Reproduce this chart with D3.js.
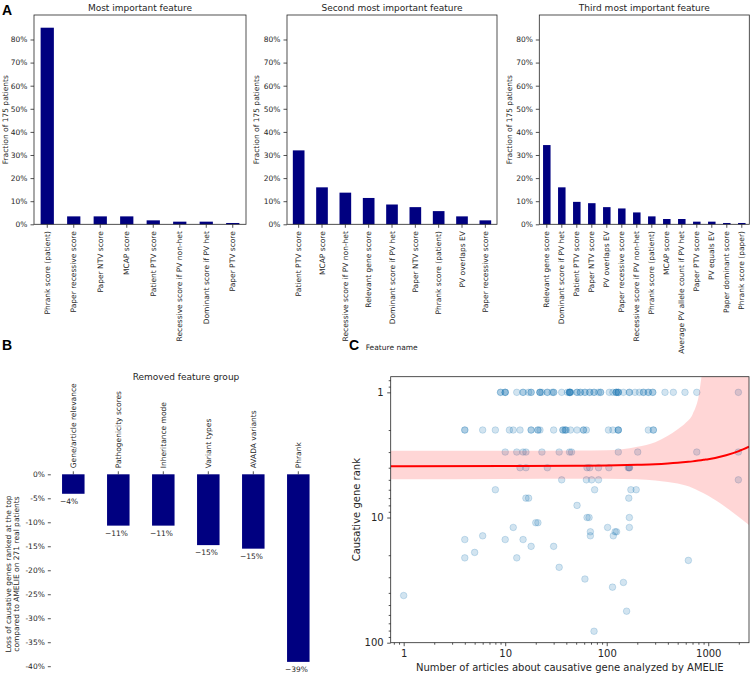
<!DOCTYPE html>
<html><head><meta charset="utf-8">
<script src="https://cdn.jsdelivr.net/npm/d3@7"></script>
<style>
body{margin:0;background:#fff;}
svg{display:block;font-family:"DejaVu Sans",sans-serif;}
</style></head><body>
<svg id="chart" width="753" height="677"></svg>
<script>
// ---------- Panel A data ----------
const featuresMost = ["Phrank score (patient)","Paper recessive score","Paper NTV score","MCAP score","Patient PTV score","Recessive score if PV non-het","Dominant score if PV het","Paper PTV score"];
const valuesMost = [0.851,0.0343,0.0343,0.0343,0.0171,0.0114,0.0114,0.0057];
const featuresSecond = ["Patient PTV score","MCAP score","Recessive score if PV non-het","Relevant gene score","Dominant score if PV het","Paper NTV score","Phrank score (patient)","PV overlaps EV","Paper recessive score"];
const valuesSecond = [0.32,0.16,0.137,0.114,0.0857,0.0743,0.0571,0.0343,0.0171];
const featuresThird = ["Relevant gene score","Dominant score if PV het","Patient PTV score","Paper NTV score","PV overlaps EV","Paper recessive score","Recessive score if PV non-het","Phrank score (patient)","MCAP score","Average PV allele count if PV het","Paper PTV score","PV equals EV","Paper dominant score","Phrank score (paper)"];
const valuesThird = [0.343,0.16,0.0971,0.0914,0.0743,0.0686,0.0514,0.0343,0.0229,0.0229,0.0114,0.0114,0.0057,0.0057];
const fractionTicks = [0,0.1,0.2,0.3,0.4,0.5,0.6,0.7,0.8];

// ---------- Panel B data ----------
const removedGroups = ["Gene/article relevance","Pathogenicity scores","Inheritance mode","Variant types","AVADA variants","Phrank"];
const lossValues = [-0.0406,-0.107,-0.107,-0.1476,-0.155,-0.391];
const lossLabels = ["\u22124%","\u221211%","\u221211%","\u221215%","\u221215%","\u221239%"];
const lossTicks = [0,-0.05,-0.10,-0.15,-0.20,-0.25,-0.30,-0.35,-0.40];

// ---------- Panel C data: [articles, causative gene rank] ----------
const genePoints = [
 [9,1],[9,1],[10,1],[10,1],[10,1],[13,1],[15,1],[15,1],[17,1],[18,1],[18,1],[22,1],[22,1],[22,1],[23,1],[26,1],[26,1],[29,1],[30,1],[30,1],
 [36,1],[41,1],[43,1],[43,1],[43,1],[43,1],[44,1],[44,1],[51,1],[51,1],[55,1],[55,1],[61,1],[61,1],[68,1],[68,1],[75,1],[75,1],[83,1],[87,1],[87,1],
 [106,1],[115,1],[124,1],[124,1],[124,1],[130,1],[130,1],[130,1],[146,1],[167,1],[167,1],[190,1],[210,1],[230,1],[230,1],[257,1],[257,1],[284,1],[284,1],
 [375,1],[453,1],[590,1],[771,1],[1980,1],
 [4,2],[4,2],[6,2],[8,2],[11,2],[12,2],[14,2],[18,2],[18,2],[21,2],[21,2],[22,2],[30,2],[37,2],[37,2],[39,2],[39,2],[40,2],[44,2],[51,2],[59,2],[59,2],[63,2],
 [104,2],[115,2],[130,2],[130,2],[130,2],[257,2],[288,2],[288,2],
 [10,3],[13,3],[15,3],[16,3],[23,3],[34,3],[43,3],[45,3],[130,3],[202,3],[771,3],[1980,3],
 [14,4],[16,4],[26,4],[64,4],[68,4],[83,4],[105,4],[163,4],[167,4],[167,4],
 [36,5],[63,5],[71,5],[83,5],[1980,5],
 [8,6],[76,6],[173,6],[195,6],
 [16,7],[17,7],[165,7],
 [51,8],
 [64,10],[67,10],[167,10],
 [20,11],[21,11],
 [12,12],[102,12],[167,12],
 [69,13],[121,13],[125,13],
 [6,14],[69,14],[116,14],
 [4,15],[10,15],[15,15],
 [18,17],[30,17],
 [5,19],
 [4,21],[13,21],
 [637,22],
 [34,25],
 [61,31],
 [146,33],
 [114,36],
 [1,42],
 [157,56],
 [75,81]
];
// regression line and confidence band
const fitArticles = [0.745,1,10,50,100,200,300,400,500,600,700,800,900,1000,1500,2000,2520];
const fitRank     = [3.89,3.89,3.88,3.86,3.84,3.79,3.75,3.70,3.65,3.60,3.56,3.51,3.46,3.42,3.18,2.95,2.72];
const bandLow     = [4.94,4.94,4.92,4.90,4.90,4.95,5.05,5.20,5.35,5.55,5.80,6.10,6.40,6.70,8.30,9.90,11.5];
const bandHigh    = [2.93,2.93,2.93,2.92,2.90,2.72,2.50,2.22,1.97,1.75,1.50,1.10,0.60,null,null,null,null];
const rankTicks = [1,10,100];
const articleTicks = [1,10,100,1000];

const svg = d3.select("#chart");
const INK = "#262626";
const NAVY = "#000080";

// ---------- Panel A ----------
function barPanel(x0, x1, features, values, title, ylabX) {
  const top = 15, bottom = 224.3;
  const g = svg.append("g");
  const x = d3.scaleBand().domain(features).range([x0, x1]).paddingInner(0.5).paddingOuter(0.25);
  const y = d3.scaleLinear().domain([0, 0.906]).range([bottom, top]);
  g.selectAll("rect.bar").data(values).join("rect")
    .attr("class","bar")
    .attr("x", (d,i) => x(features[i])).attr("width", x.bandwidth())
    .attr("y", d => y(d)).attr("height", d => y(0) - y(d))
    .attr("fill", NAVY);
  const ya = g.append("g").attr("transform", `translate(${x0},0)`)
    .call(d3.axisLeft(y).tickValues(fractionTicks).tickFormat(d3.format(".0%")).tickSize(3.5).tickPadding(3));
  ya.select(".domain").remove();
  ya.selectAll("line").attr("stroke", INK).attr("stroke-width", 0.8);
  ya.selectAll("text").attr("font-size", 7.5).attr("fill", INK).attr("font-family","DejaVu Sans");
  const xa = g.append("g").attr("transform", `translate(0,${bottom})`)
    .call(d3.axisBottom(x).tickSize(3.5).tickPadding(3));
  xa.select(".domain").remove();
  xa.selectAll("line").attr("stroke", INK).attr("stroke-width", 0.8);
  xa.selectAll("text").attr("font-size", 7.5).attr("fill", INK).attr("font-family","DejaVu Sans")
    .attr("transform","rotate(-90)").attr("text-anchor","end")
    .attr("x", -6.8).attr("y", 0).attr("dy","0.35em");
  g.append("rect").attr("x", x0).attr("y", top).attr("width", x1 - x0).attr("height", bottom - top)
    .attr("fill","none").attr("stroke", INK).attr("stroke-width", 0.8);
  g.append("text").attr("x", (x0 + x1) / 2).attr("y", 11).attr("text-anchor","middle")
    .attr("font-size", 9).attr("fill", INK).text(title);
  g.append("text").attr("transform", `translate(${ylabX},${(top + bottom) / 2}) rotate(-90)`)
    .attr("text-anchor","middle").attr("font-size", 7.5).attr("fill", INK).text("Fraction of 175 patients");
}
barPanel(34, 246, featuresMost, valuesMost, "Most important feature", 8.2);
barPanel(287, 497, featuresSecond, valuesSecond, "Second most important feature", 258.7);
barPanel(539.3, 749.3, featuresThird, valuesThird, "Third most important feature", 512);
svg.append("text").attr("x", 391.7).attr("y", 349.5).attr("text-anchor","middle")
  .attr("font-size", 7.5).attr("fill", INK).text("Feature name");

// ---------- Panel B ----------
{
  const g = svg.append("g");
  const x0 = 50.8, x1 = 320.8;
  const x = d3.scaleBand().domain(removedGroups).range([x0, x1]).paddingInner(0.5).paddingOuter(0.25);
  const y = d3.scaleLinear().domain([-0.41, 0]).range([671, 474.3]);
  g.selectAll("rect.bar").data(lossValues).join("rect")
    .attr("class","bar")
    .attr("x", (d,i) => x(removedGroups[i])).attr("width", x.bandwidth())
    .attr("y", y(0)).attr("height", d => y(d) - y(0))
    .attr("fill", NAVY);
  g.selectAll("text.val").data(lossValues).join("text")
    .attr("class","val")
    .attr("x", (d,i) => x(removedGroups[i]) - 2).attr("y", d => y(d) + 10)
    .attr("font-size", 7.5).attr("fill", INK).text((d,i) => lossLabels[i]);
  const ya = g.append("g").attr("transform", `translate(${x0},0)`)
    .call(d3.axisLeft(y).tickValues(lossTicks).tickFormat(d => (d < 0 ? "-" : "") + Math.round(Math.abs(d) * 100) + "%").tickSize(3).tickPadding(3));
  ya.select(".domain").remove();
  ya.selectAll("line").attr("stroke", INK).attr("stroke-width", 0.8);
  ya.selectAll("text").attr("font-size", 7.5).attr("fill", INK).attr("font-family","DejaVu Sans");
  const xa = g.append("g").attr("transform", `translate(0,${y(0)})`)
    .call(d3.axisTop(x).tickSize(3).tickPadding(3));
  xa.select(".domain").remove();
  xa.selectAll("line").attr("stroke", INK).attr("stroke-width", 0.8);
  xa.selectAll("text").attr("font-size", 7.5).attr("fill", INK).attr("font-family","DejaVu Sans")
    .attr("transform","rotate(-90)").attr("text-anchor","start")
    .attr("x", 6).attr("y", 0).attr("dy","0.35em");
  g.append("text").attr("x", 186).attr("y", 380).attr("text-anchor","middle")
    .attr("font-size", 9).attr("fill", INK).text("Removed feature group");
  const yl = g.append("text").attr("transform", `translate(0,574) rotate(-90)`)
    .attr("text-anchor","middle").attr("font-size", 7.5).attr("fill", INK);
  yl.append("tspan").attr("x", 0).attr("y", 11).text("Loss of causative genes ranked at the top");
  yl.append("tspan").attr("x", 0).attr("y", 18.6).text("compared to AMELIE on 271 real patients");
}

// ---------- Panel C ----------
{
  const g = svg.append("g");
  const L = 390.7, R = 749, T = 376.7, B = 642.7;
  const x = d3.scaleLog().domain([0.745, 2520]).range([L, R]);
  const y = d3.scaleLog().domain([0.75, 100]).range([T, B]);
  svg.append("defs").append("clipPath").attr("id","clipC")
    .append("rect").attr("x", L).attr("y", T).attr("width", R - L).attr("height", B - T);
  const plot = g.append("g").attr("clip-path","url(#clipC)");
  plot.selectAll("circle").data(genePoints).join("circle")
    .attr("cx", d => x(d[0])).attr("cy", d => y(d[1])).attr("r", 3.3)
    .attr("fill","#1f77b4").attr("fill-opacity", 0.2)
    .attr("stroke","#1f77b4").attr("stroke-opacity", 0.2).attr("stroke-width", 1);
  const fit = fitArticles.map((a,i) => ({a, c: fitRank[i], lo: bandLow[i], hi: bandHigh[i]}));
  const area = d3.area().curve(d3.curveMonotoneX)
    .x(d => x(d.a)).y0(d => y(d.lo)).y1(d => d.hi == null ? T - 20 : y(d.hi));
  plot.append("path").datum(fit).attr("d", area).attr("fill","#ff0000").attr("fill-opacity", 0.16);
  plot.append("path").datum(fit)
    .attr("d", d3.line().curve(d3.curveMonotoneX).x(d => x(d.a)).y(d => y(d.c)))
    .attr("fill","none").attr("stroke","#ff0000").attr("stroke-width", 2);

  const minorY = [0.8,0.9,2,3,4,5,6,7,8,9,20,30,40,50,60,70,80,90];
  const minorX = [0.8,0.9,2,3,4,5,6,7,8,9,20,30,40,50,60,70,80,90,200,300,400,500,600,700,800,900,2000];
  const ya = g.append("g").attr("transform", `translate(${L},0)`)
    .call(d3.axisLeft(y).tickValues(rankTicks).tickFormat(d3.format("d")).tickSize(3.5).tickPadding(3.5));
  const yam = g.append("g").attr("transform", `translate(${L},0)`)
    .call(d3.axisLeft(y).tickValues(minorY).tickFormat("").tickSize(2));
  const xa = g.append("g").attr("transform", `translate(0,${B})`)
    .call(d3.axisBottom(x).tickValues(articleTicks).tickFormat(d3.format("d")).tickSize(3.5).tickPadding(3.5));
  const xam = g.append("g").attr("transform", `translate(0,${B})`)
    .call(d3.axisBottom(x).tickValues(minorX).tickFormat("").tickSize(2));
  [ya, yam, xa, xam].forEach(a => {
    a.select(".domain").remove();
    a.selectAll("line").attr("stroke", INK).attr("stroke-width", 0.8);
    a.selectAll("text").attr("font-size", 10).attr("fill", INK).attr("font-family","DejaVu Sans");
  });
  g.append("rect").attr("x", L).attr("y", T).attr("width", R - L).attr("height", B - T)
    .attr("fill","none").attr("stroke", INK).attr("stroke-width", 0.8);
  g.append("text").attr("x", (L + R) / 2).attr("y", 671).attr("text-anchor","middle")
    .attr("font-size", 10).attr("fill", INK).text("Number of articles about causative gene analyzed by AMELIE");
  g.append("text").attr("transform", `translate(359.5,${(T + B) / 2}) rotate(-90)`)
    .attr("text-anchor","middle").attr("font-size", 10).attr("fill", INK).text("Causative gene rank");
}

// ---------- Panel letters ----------
const letters = [["A", 2, 15], ["B", 2, 350], ["C", 349, 350]];
svg.selectAll("text.letter").data(letters).join("text").attr("class","letter")
  .attr("x", d => d[1]).attr("y", d => d[2])
  .attr("font-family","Liberation Sans, Arial, sans-serif").attr("font-weight","bold").attr("font-size", 14)
  .attr("fill","#000").text(d => d[0]);
</script>
</body></html>
